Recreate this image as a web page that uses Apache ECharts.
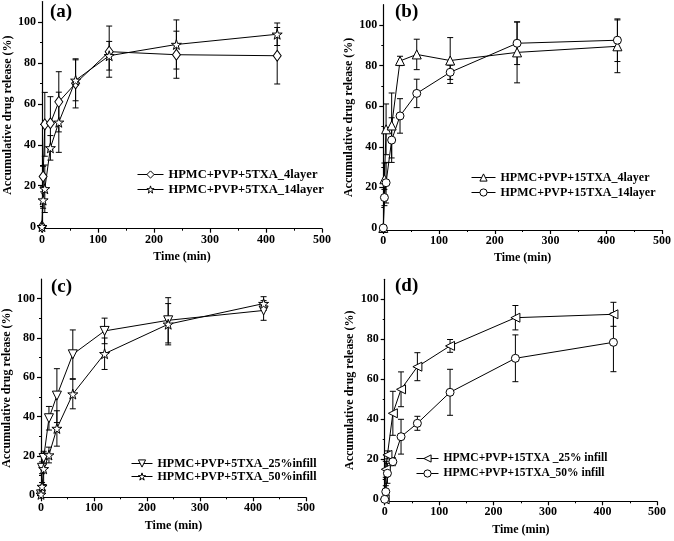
<!DOCTYPE html>
<html><head><meta charset="utf-8">
<script src="https://cdn.jsdelivr.net/npm/echarts@6/dist/echarts.min.js"></script>
<style>html,body{margin:0;padding:0;background:#fff}#c{width:674px;height:541px}</style>
</head><body><div id="c"></div>
<script>
// ---------------- data ----------------
const times = [0, 2, 5, 15, 30, 60, 120, 240, 420];
const xTicks = [0, 100, 200, 300, 400, 500];
const xMinorTicks = [50, 150, 250, 350, 450];
const yTicks = [0, 20, 40, 60, 80, 100];
const yMinorTicks = [10, 30, 50, 70, 90];
const panelLabels = ['(a)', '(b)', '(c)', '(d)'];
const xTitle = 'Time (min)';
const yTitle = 'Accumulative drug release (%)';

// (a)
const aNames = ['HPMC+PVP+5TXA_4layer', 'HPMC+PVP+5TXA_14layer'];
const a4layer = [0, 24.5, 50, 50.5, 61, 70, 85.5, 84, 83.5];
const a4layerSd = [0, 5, 15.6, 13, 14.7, 12, 12.5, 11.5, 13.8];
const a14layer = [0, 13, 18.5, 38.5, 51, 71.5, 83.5, 89, 94];
const a14layerSd = [0, 4, 11.6, 6, 14.7, 10, 7, 12, 5.5];
// (b)
const bNames = ['HPMC+PVP+15TXA_4layer', 'HPMC+PVP+15TXA_14layer'];
const b4layer = [0, 24, 48.6, 50.5, 82.3, 85.5, 82.5, 86.5, 89.5];
const b4layerSd = [0, 8, 12.5, 16, 2.3, 7.5, 11.3, 15, 13];
const b14layer = [0, 15, 22.3, 43.3, 55.2, 66.3, 76.7, 91, 92.5];
const b14layerSd = [0, 4, 10, 11, 8.5, 7, 3.5, 10.5, 10.5];
// (c)
const cNames = ['HPMC+PVP+5TXA_25%infill', 'HPMC+PVP+5TXA_50%infill'];
const c25infill = [0.5, 14, 19, 39.2, 50.7, 71.7, 83.6, 89, 94];
const c25infillSd = [0, 3, 3.4, 6, 13.7, 12.4, 6.5, 11.5, 5];
const c50infill = [0.5, 4.5, 13.5, 20.5, 34, 51.5, 72, 87, 97.5];
const c50infillSd = [0, 2, 8, 4, 9, 7.5, 8, 10.5, 3.5];
// (d)
const dNames = ['HPMC+PVP+15TXA _25% infill', 'HPMC+PVP+15TXA_50% infill'];
const d25infill = [0, 15, 22.2, 43, 55, 66.3, 76.7, 90.8, 92.5];
const d25infillSd = [0, 4, 2, 11, 8.7, 7, 3.2, 6.1, 6];
const d50infill = [0, 3.8, 13, 18.8, 31.3, 38, 53.5, 70.5, 78.5];
const d50infillSd = [0, 3, 5, 2, 8.7, 3.5, 11.5, 11.7, 14.7];

// ---------------- chart ----------------
const FONT = '"Liberation Serif","Times New Roman",serif';
const STAR = 'path://M50,0 L61,35 L98,35 L68,57 L79,91 L50,70 L21,91 L32,57 L2,35 L39,35 Z';

const panels = [
  { grid: {left: 42, top: 1.5, width: 280, height: 227.2}, label: {left: 50, top: 3},
    legend: {left: 137, top: 168, itemWidth: 26, itemGap: 2, fontSize: 12.5},
    xGap: 22, yGap: 27,
    series: [
      {name: aNames[0], v: a4layer, sd: a4layerSd, symbol: 'diamond', size: [8, 11], rot: 0},
      {name: aNames[1], v: a14layer, sd: a14layerSd, symbol: STAR, size: 10, rot: 0}
    ]},
  { grid: {left: 383.3, top: 4.7, width: 280.7, height: 225.3}, label: {left: 395, top: 3},
    legend: {left: 471, top: 171, itemWidth: 24, itemGap: 2, fontSize: 12},
    xGap: 22, yGap: 27,
    series: [
      {name: bNames[0], v: b4layer, sd: b4layerSd, symbol: 'triangle', size: 9, rot: 0},
      {name: bNames[1], v: b14layer, sd: b14layerSd, symbol: 'circle', size: 8, rot: 0}
    ]},
  { grid: {left: 40.7, top: 279, width: 265.3, height: 218.3}, label: {left: 51, top: 278},
    legend: {left: 131, top: 457, itemWidth: 21, itemGap: 0, fontSize: 12},
    xGap: 23, yGap: 28,
    series: [
      {name: cNames[0], v: c25infill, sd: c25infillSd, symbol: 'triangle', size: 9, rot: 180},
      {name: cNames[1], v: c50infill, sd: c50infillSd, symbol: STAR, size: 10, rot: 0}
    ]},
  { grid: {left: 384.7, top: 279.3, width: 272.3, height: 222}, label: {left: 395, top: 277},
    legend: {left: 416, top: 452, itemWidth: 22, itemGap: 2, fontSize: 11.5},
    xGap: 23, yGap: 29,
    series: [
      {name: dNames[0], v: d25infill, sd: d25infillSd, symbol: 'triangle', size: 9, rot: 90},
      {name: dNames[1], v: d50infill, sd: d50infillSd, symbol: 'circle', size: 8, rot: 0}
    ]}
];

const labelStyle = {fontFamily: FONT, fontWeight: 'bold', fontSize: 12, color: '#000'};
const option = {
  backgroundColor: '#fff', animation: false,
  grid: [], xAxis: [], yAxis: [], legend: [], series: [], graphic: []
};

function errRender(params, api) {
  const x = api.value(0), lo = api.value(1), hi = api.value(2);
  const p1 = api.coord([x, hi]), p2 = api.coord([x, lo]);
  const hw = 3, st = {stroke: '#000', lineWidth: 1};
  return {type: 'group', children: [
    {type: 'line', shape: {x1: p1[0], y1: p1[1], x2: p2[0], y2: p2[1]}, style: st},
    {type: 'line', shape: {x1: p1[0] - hw, y1: p1[1], x2: p1[0] + hw, y2: p1[1]}, style: st},
    {type: 'line', shape: {x1: p2[0] - hw, y1: p2[1], x2: p2[0] + hw, y2: p2[1]}, style: st}
  ]};
}

panels.forEach((p, i) => {
  option.grid.push(p.grid);
  option.xAxis.push({
    type: 'value', gridIndex: i, min: 0, max: 500, interval: 100,
    name: xTitle, nameLocation: 'middle', nameGap: p.xGap, nameTextStyle: labelStyle,
    axisLine: {show: true, onZero: false, lineStyle: {color: '#000', width: 1.2}},
    axisTick: {show: true, inside: false, length: 4, lineStyle: {color: '#000', width: 1.2}},
    minorTick: {show: true, splitNumber: 2, length: 2, lineStyle: {color: '#000', width: 1}},
    axisLabel: Object.assign({margin: 5}, labelStyle),
    splitLine: {show: false}, minorSplitLine: {show: false}
  });
  option.yAxis.push({
    type: 'value', gridIndex: i, min: -1, max: 110,
    name: yTitle, nameLocation: 'middle', nameGap: p.yGap, nameTextStyle: labelStyle,
    axisLine: {show: true, onZero: false, lineStyle: {color: '#000', width: 1.2}},
    axisTick: {show: true, inside: false, length: 4, customValues: yTicks, lineStyle: {color: '#000', width: 1.2}},
    axisLabel: Object.assign({margin: 6, customValues: yTicks}, labelStyle),
    splitLine: {show: false}
  });
  option.yAxis.push({
    type: 'value', gridIndex: i, min: -1, max: 110, position: 'left',
    axisLine: {show: false},
    axisTick: {show: true, inside: false, length: 2, customValues: yMinorTicks, lineStyle: {color: '#000', width: 1}},
    axisLabel: {show: false}, splitLine: {show: false}
  });
  const yIdx = i * 2;
  option.legend.push({
    data: p.series.map(s => s.name), orient: 'vertical', left: p.legend.left, top: p.legend.top,
    itemWidth: p.legend.itemWidth, itemHeight: 9, itemGap: p.legend.itemGap, padding: 0,
    itemStyle: {color: '#fff', borderColor: '#000', borderWidth: 1},
    lineStyle: {color: '#000', width: 1},
    textStyle: Object.assign({}, labelStyle, {fontSize: p.legend.fontSize, lineHeight: 13}), selectedMode: false
  });
  option.graphic.push({type: 'text', left: p.label.left, top: p.label.top,
    style: {text: panelLabels[i], font: 'bold 19px ' + FONT, fill: '#000'}});
  p.series.forEach(s => {
    option.series.push({
      type: 'custom', xAxisIndex: i, yAxisIndex: yIdx, z: 2, silent: true,
      renderItem: errRender, encode: {x: 0, y: [1, 2]},
      data: times.map((t, k) => [t, s.v[k] - s.sd[k], s.v[k] + s.sd[k]]).filter((d, k) => s.sd[k] > 0)
    });
    option.series.push({
      type: 'line', name: s.name, xAxisIndex: i, yAxisIndex: yIdx, z: 3,
      data: times.map((t, k) => [t, s.v[k]]),
      symbol: s.symbol, symbolSize: s.size, symbolRotate: s.rot, showAllSymbol: true,
      lineStyle: {color: '#000', width: 1},
      itemStyle: {color: '#fff', borderColor: '#000', borderWidth: 1},
      emphasis: {disabled: true}
    });
  });
});

const chart = echarts.init(document.getElementById('c'), null, {renderer: 'canvas'});
chart.setOption(option);
</script>
</body></html>
